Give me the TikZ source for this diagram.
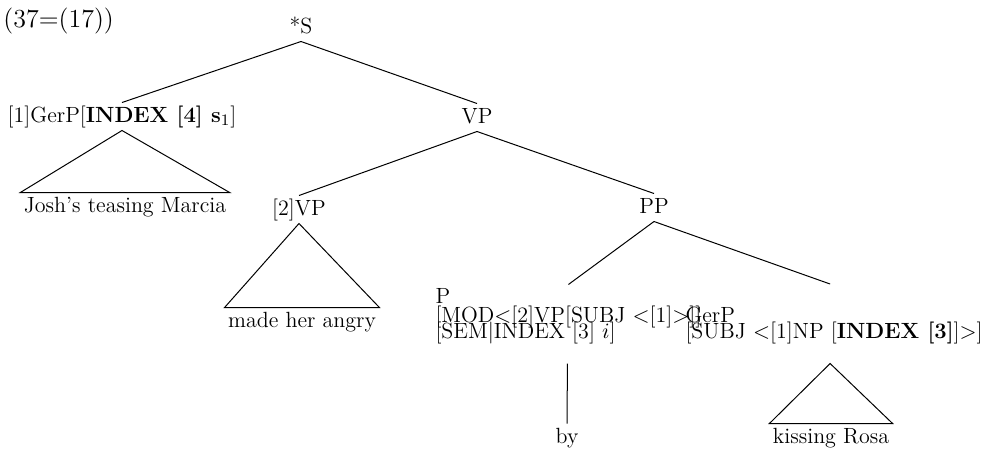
\documentclass[tikz,border=0pt]{standalone}
\usetikzlibrary{positioning}
\begin{document}
\begin{tikzpicture}[x=0.5pt,y=-0.5pt,line width=0.5pt,
    font=\fontsize{11}{13}\selectfont,
    cat/.style={text height=8pt,text depth=2.5pt,inner sep=1.5pt,anchor=base},
    feat/.style={align=left,inner sep=1.5pt,anchor=base west}]
  \useasboundingbox (0,0) rectangle (990,451);
  \node[anchor=base west,inner sep=0pt,font=\fontsize{13}{15}\selectfont]
    (num) at (3,27) {(37=(17))};
  % categories
  \node[cat] (s) at (301,33) {*S};
  \node[cat] (gerp) at (122,122) {[1]GerP[\textbf{INDEX [4] s}$_1$]};
  \node[cat] (vp) at (477,123) {VP};
  \node[cat] (vp2) at (299,215) {[2]VP};
  \node[cat] (pp) at (654,213) {PP};
  \node[feat] (pform) at (432,338) {P\\[-3.5pt]
    {[}MOD$<$[2]VP[SUBJ $<$[1]$>$]]\\[-5pt]
    {[}SEM$|$INDEX [3] $i$]};
  \node[feat] (gerobj) at (682,338) {GerP\\[-5pt]
    {[}SUBJ $<$[1]NP [\textbf{INDEX [3]}]$>$]};
  % leaves
  \node[cat] (josh) at (125,212) {Josh's teasing Marcia};
  \node[cat] (angry) at (302,327) {made her angry};
  \node[cat] (by) at (567,443) {by};
  \node[cat] (kiss) at (831,443) {kissing Rosa};
  % branches
  \draw (s.south) -- (gerp.north);
  \draw (s.south) -- (vp.north);
  \draw (vp.south) -- (vp2.north);
  \draw (vp.south) -- (pp.north);
  \draw (pp.south) -- (pform.north);
  \draw (pp.south) -- ([xshift=-2pt,yshift=9.5pt]gerobj.north);
  \draw ([xshift=-0.5pt,yshift=-8.25pt]pform.south) -- (by.north);
  % triangles for the unanalysed phrases
  \foreach \top/\leaf in {gerp/josh,vp2/angry} {
    \draw (\top.south) -- (\leaf.north west) -- (\leaf.north east) -- cycle;
  }
  \draw ([xshift=-2pt,yshift=-8.25pt]gerobj.south) -- (kiss.north west)
    -- (kiss.north east) -- cycle;
\end{tikzpicture}
\end{document}
